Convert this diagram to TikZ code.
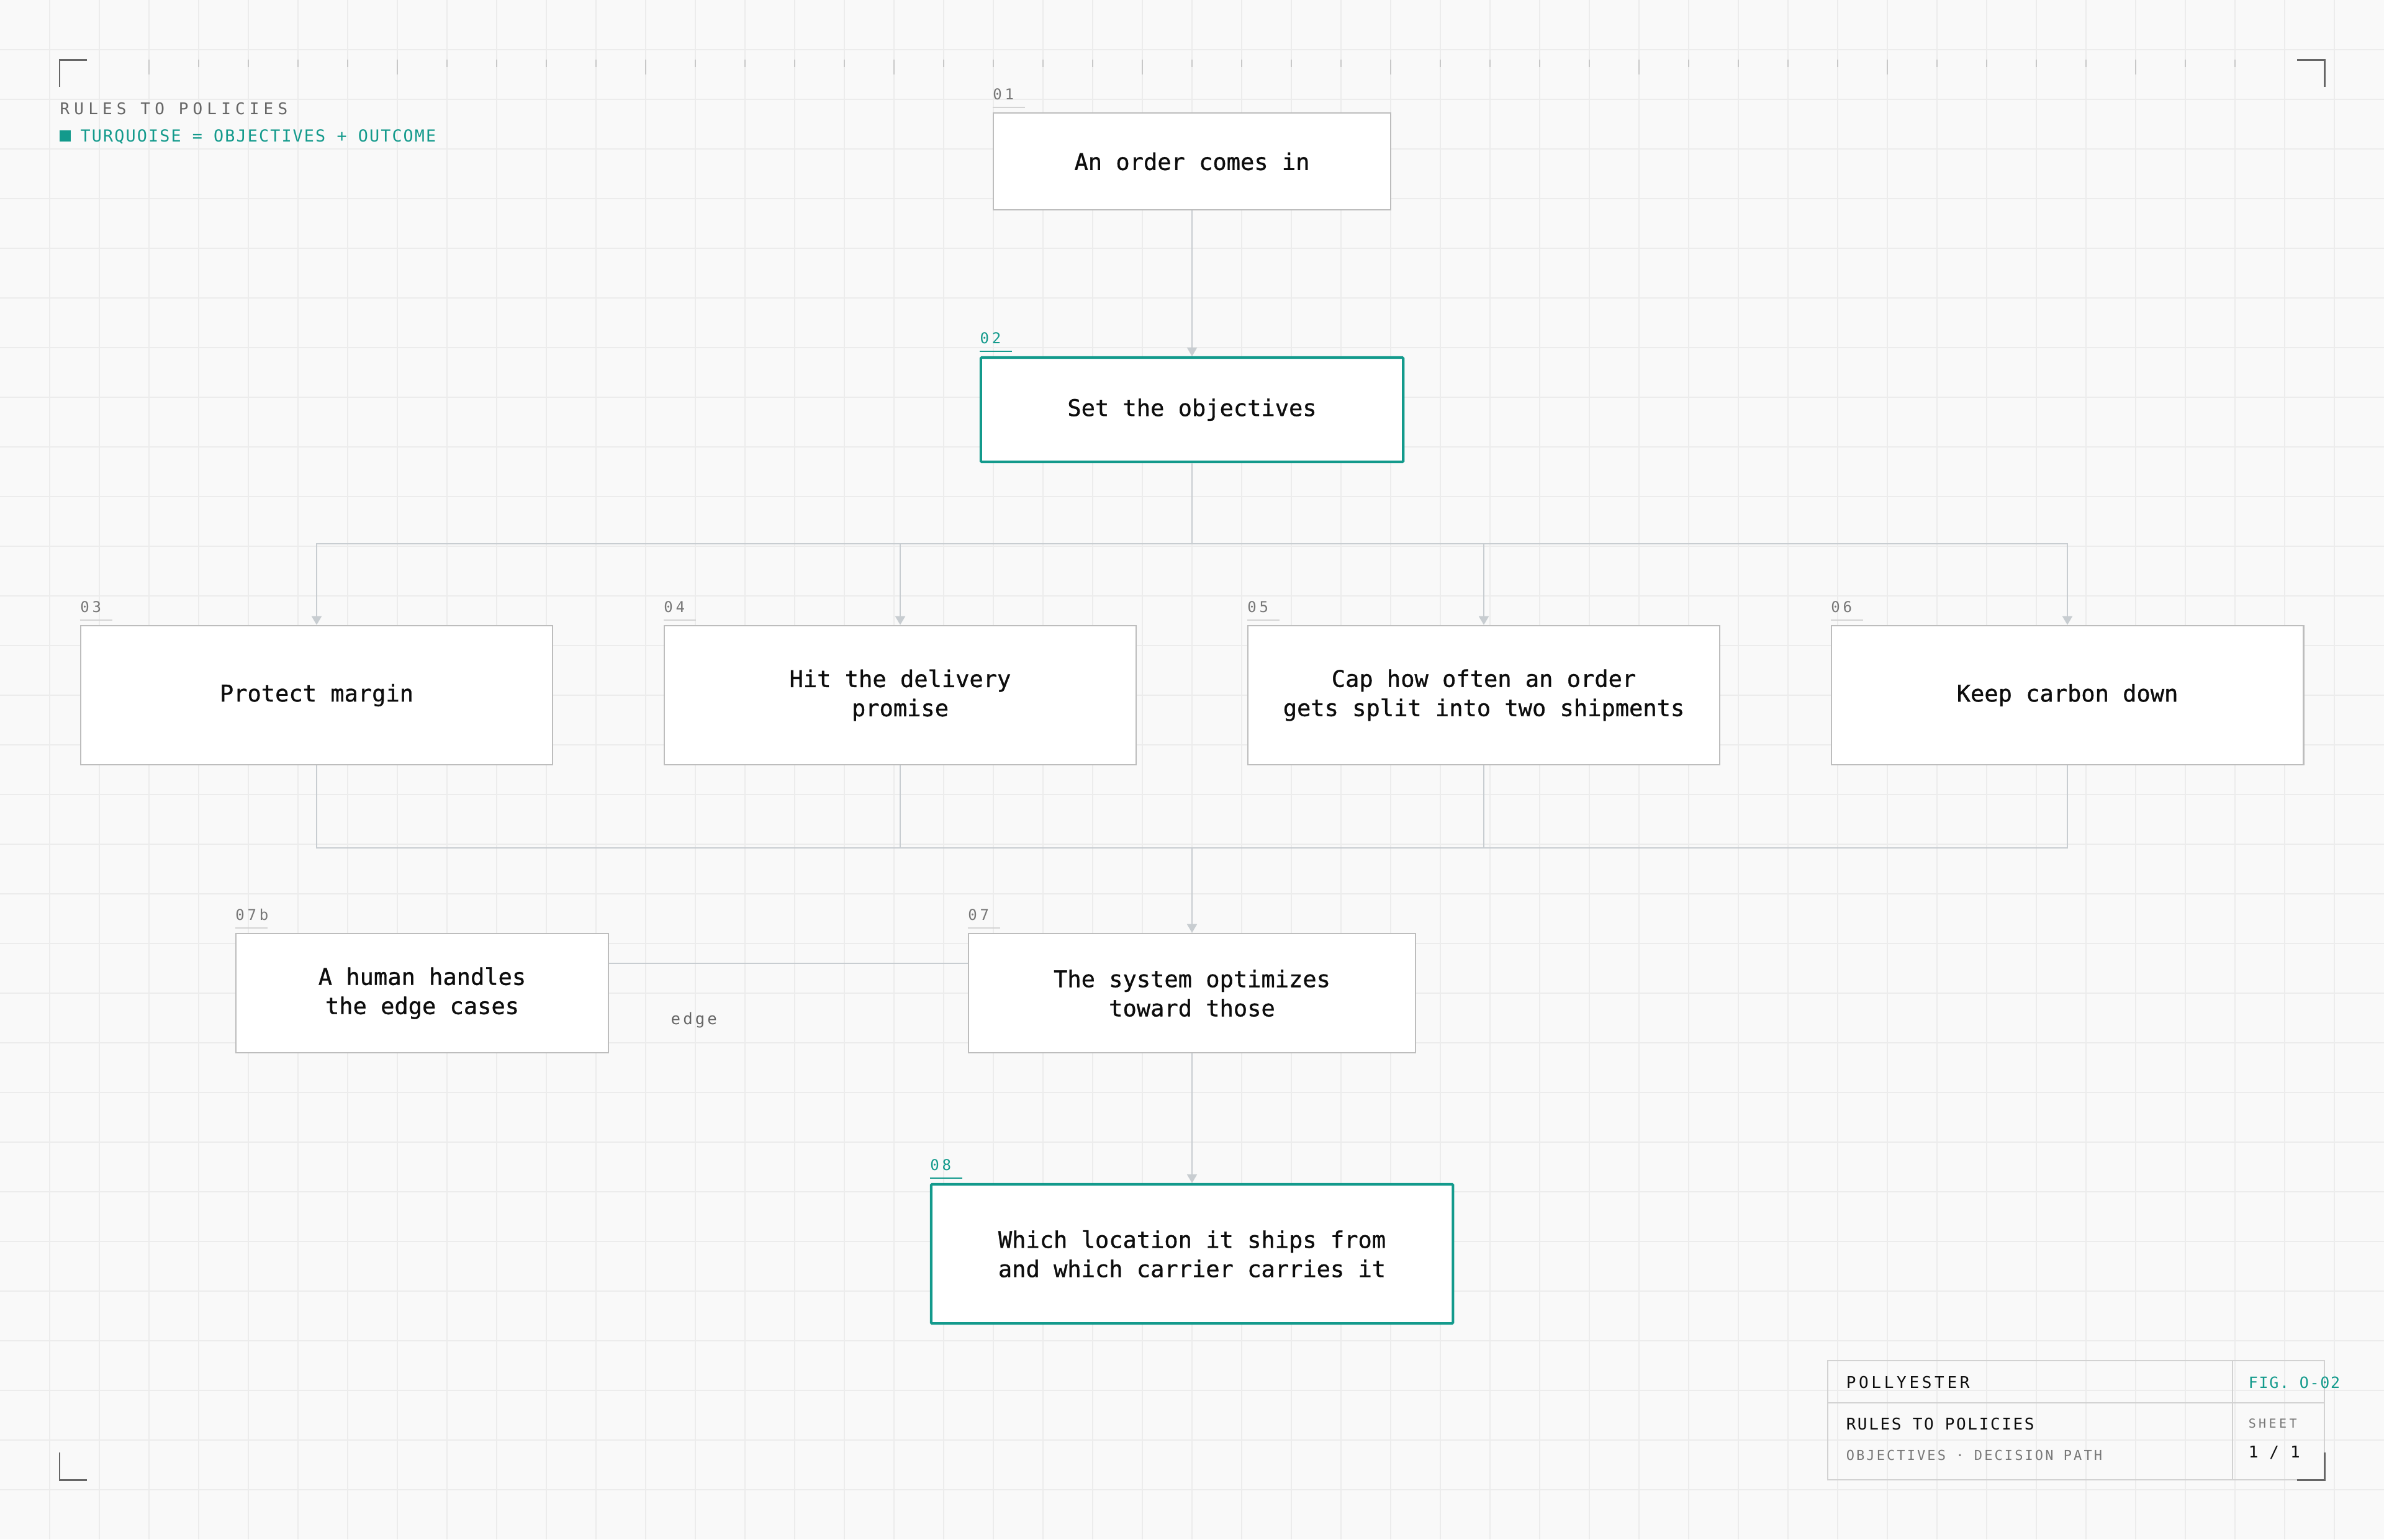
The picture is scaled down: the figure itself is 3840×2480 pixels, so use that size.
\documentclass[tikz,border=0pt]{standalone}
\usepackage{fontspec}
\setmonofont{DejaVu Sans Mono}
\newfontfamily\boxfont[FakeBold=0.9]{DejaVu Sans Mono}
\usetikzlibrary{arrows.meta}
\definecolor{bg}{HTML}{F9F9F9}
\definecolor{gridc}{HTML}{ECECEC}
\definecolor{teal1}{HTML}{139A8C}
\definecolor{boxc}{HTML}{BDBDBD}
\definecolor{connc}{HTML}{C8CDD1}
\definecolor{tickc}{HTML}{C8C8C8}
\definecolor{cornc}{HTML}{666666}
\definecolor{lblc}{HTML}{777777}
\definecolor{txtc}{HTML}{0D0D0D}
\definecolor{ulc}{HTML}{D4D4D4}
\definecolor{tbc}{HTML}{D2D2D2}
\newcommand\fsz[3]{\ttfamily\fontsize{#1pt}{#2pt}\selectfont\addfontfeatures{LetterSpace=#3}}
\begin{document}
\begin{tikzpicture}[x=0.01cm,y=-0.01cm,
  box/.style={draw=boxc, line width=0.7pt, fill=white, inner sep=0pt, align=center,
    font=\boxfont\fontsize{10.53pt}{13.37pt}\selectfont, text=txtc},
  tbox/.style={box, draw=teal1, line width=1.15pt, rounded corners=0.4pt},
  conn/.style={draw=connc, line width=0.6pt},
  arr/.style={conn, -{Triangle[width=1.6mm,length=1.4mm]}},
  lbl/.style={anchor=base west, inner sep=0pt},
  num/.style={lbl, text=lblc, font=\fsz{6.83}{8}{20}},
  tnum/.style={num, text=teal1},
  ul/.style={draw=ulc, line width=0.6pt},
  tul/.style={draw=teal1, line width=0.6pt},
  corner/.style={draw=cornc, line width=0.85pt},
  tick/.style={draw=tickc, line width=0.55pt},
  gridl/.style={draw=gridc, line width=0.5pt},
  tb/.style={draw=tbc, line width=0.6pt}
]
\useasboundingbox (0,0) rectangle (3840,2480);
\fill[bg] (0,0) rectangle (3840,2480);
% grid
\foreach \gx in {80,160,...,3800} \draw[gridl] (\gx,0) -- (\gx,2480);
\foreach \gy in {80,160,...,2440} \draw[gridl] (0,\gy) -- (3840,\gy);
% ruler ticks
\foreach \i in {0,...,42} {
  \pgfmathtruncatemacro\tx{240+80*\i}
  \pgfmathtruncatemacro\tm{mod(\i,5)}
  \ifnum\tm=0 \draw[tick] (\tx,96) -- (\tx,120); \else \draw[tick] (\tx,96) -- (\tx,108); \fi
}
% header
\node[lbl, text=cornc, font=\fsz{7.4}{9}{27.5}] (hdr) at (96,184) {RULES TO POLICIES};
\fill[teal1] (96,210) rectangle (114,228);
\node[lbl, text=teal1, font=\fsz{7.6}{9}{8}] (legend) at (129,228) {TURQUOISE = OBJECTIVES + OUTCOME};

% nodes
\node[box, minimum width=64mm, minimum height=15.6mm] (n01) at (1920,260) {An order comes in};
\node[tbox, minimum width=68mm, minimum height=16.8mm] (n02) at (1920,660) {Set the objectives};
\node[box, minimum width=76mm, minimum height=22.4mm] (n03) at (510,1120) {Protect margin};
\node[box, minimum width=76mm, minimum height=22.4mm] (n04) at (1450,1120) {Hit the delivery\\promise};
\node[box, minimum width=76mm, minimum height=22.4mm] (n05) at (2390,1120) {Cap how often an order\\gets split into two shipments};
\node[box, minimum width=76mm, minimum height=22.4mm] (n06) at (3330,1120) {Keep carbon down};
\node[box, minimum width=60mm, minimum height=19.2mm] (n07b) at (680,1600) {A human handles\\the edge cases};
\node[box, minimum width=72mm, minimum height=19.2mm] (n07) at (1920,1600) {The system optimizes\\toward those};
\node[tbox, minimum width=84mm, minimum height=22.4mm] (n08) at (1920,2020) {Which location it ships from\\and which carrier carries it};

% number labels
\foreach \n/\t in {n01/01,n03/03,n04/04,n05/05,n06/06,n07b/07b,n07/07} {
  \node[num] (lab-\n) at ([yshift=2mm]\n.north west) {\t};
  \draw[ul] ([yshift=0.8mm]\n.north west) -- ++(52,0);
}
\foreach \n/\t in {n02/02,n08/08} {
  \node[tnum] (lab-\n) at ([yshift=2mm]\n.north west) {\t};
  \draw[tul] ([yshift=0.8mm]\n.north west) -- ++(52,0);
}

% connectors
\coordinate (b1) at (1920,876);
\coordinate (b2) at (1920,1366);
\coordinate (e1) at (1920,1552);
\draw[arr] (n01.south) -- (n02.north);
\foreach \k in {n03,n04,n05,n06} {
  \draw[arr] (n02.south) -- (b1) -| (\k.north);
  \draw[conn] (\k.south) |- (b2);
}
\draw[arr] (b2) -- (n07.north);
\draw[conn] (n07b.east |- e1) -- (n07.west |- e1);
\node[lbl, text=cornc, font=\fsz{7.3}{9}{16}] (edgelbl) at (1080,1650) {edge};
\draw[arr] (n07.south) -- (n08.north);

% title block
\draw[tb] (2944,2192) rectangle (3744,2384);
\draw[tb] (3596,2192) -- (3596,2384);
\draw[tb] (2944,2260) -- (3744,2260);
\node[lbl, text=txtc, font=\fsz{7.4}{9}{18}] (tb1) at (2973,2236) {POLLYESTER};
\node[lbl, text=teal1, font=\fsz{7.1}{9}{7}] (tb2) at (3621,2236) {FIG. O-02};
\node[lbl, text=txtc, font=\fsz{7.4}{9}{10}] (tb3) at (2973,2303) {RULES TO POLICIES};
\node[lbl, text=lblc, font=\fsz{6.26}{8}{14}] (tb4) at (2973,2352) {OBJECTIVES · DECISION PATH};
\node[lbl, text=lblc, font=\fsz{5.69}{7}{22}] (tb5) at (3621,2300) {SHEET};
\node[lbl, text=txtc, font=\fsz{7.4}{9}{9}] (tb6) at (3621,2348) {1 / 1};

% corner marks
\draw[corner] (140,96) -- (96,96) -- (96,140);
\draw[corner] (3700,96) -- (3744,96) -- (3744,140);
\draw[corner] (96,2340) -- (96,2384) -- (140,2384);
\draw[corner] (3700,2384) -- (3744,2384) -- (3744,2340);
\end{tikzpicture}
\end{document}
